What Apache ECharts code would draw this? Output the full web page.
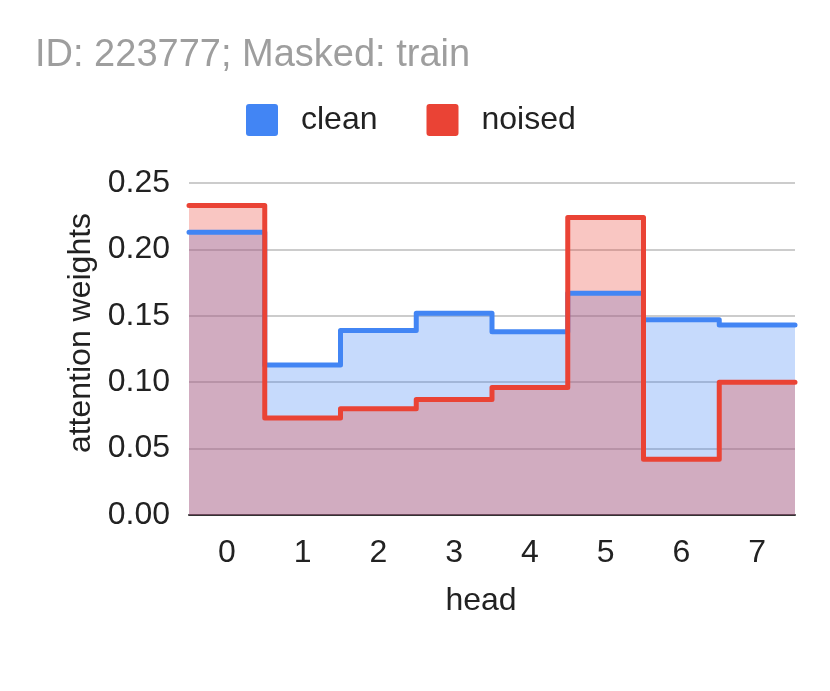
<!DOCTYPE html>
<html>
<head>
<meta charset="utf-8">
<script src="https://cdn.jsdelivr.net/npm/echarts@6/dist/echarts.min.js"></script>
<style>html,body{margin:0;padding:0;background:#fff}#c{width:830px;height:691px}</style>
</head>
<body>
<div id="c"></div>
<script>
const heads = ['0','1','2','3','4','5','6','7'];
const clean = [0.213, 0.113, 0.139, 0.152, 0.138, 0.167, 0.147, 0.143];
const noised = [0.233, 0.073, 0.080, 0.087, 0.096, 0.224, 0.042, 0.100];
const yTicks = [0, 0.05, 0.10, 0.15, 0.20, 0.25];
const titleText = 'ID: 223777; Masked: train';

const BLUE = '#4285F4', RED = '#EA4335';
const FONT = '"Liberation Sans", Arial, sans-serif';
const ICON = 'path://M3,0 H29 Q32,0 32,3 V29 Q32,32 29,32 H3 Q0,32 0,29 V3 Q0,0 3,0 Z';

function stepData(vals) {
  const d = vals.map((v, i) => [i - 0.5, v]);
  d.push([vals.length - 0.5, vals[vals.length - 1]]);
  return d;
}

function areaSeries(name, vals, color) {
  return {
    name, type: 'line', xAxisIndex: 1, step: 'end', data: stepData(vals),
    symbol: 'none', silent: true, z: 2,
    lineStyle: { width: 0, color }, itemStyle: { color },
    areaStyle: { color, opacity: 0.3 }
  };
}
function lineSeries(name, vals, color, z) {
  return {
    name, type: 'line', xAxisIndex: 1, step: 'end', data: stepData(vals),
    symbol: 'none', silent: true, z,
    lineStyle: { width: 5, color, join: 'round', cap: 'round' }, itemStyle: { color }
  };
}

const chart = echarts.init(document.getElementById('c'), null, { renderer: 'canvas' });
chart.setOption({
  animation: false,
  backgroundColor: '#fff',
  textStyle: { fontFamily: FONT },
  title: {
    text: titleText, left: 30, top: 32,
    textStyle: { fontSize: 38, fontWeight: 'normal', color: '#9e9e9e', fontFamily: FONT }
  },
  legend: {
    data: [{ name: 'clean', itemStyle: { color: BLUE } }, { name: 'noised', itemStyle: { color: RED } }],
    left: 241, top: 99, icon: ICON, itemWidth: 32, itemHeight: 32, itemGap: 49,
    textStyle: { fontSize: 32, color: '#222', fontFamily: FONT, padding: [0, 0, 0, 18] }
  },
  grid: { left: 189, right: 35, top: 183, bottom: 176, containLabel: false },
  xAxis: [
    {
      type: 'category', data: heads, boundaryGap: true,
      axisLine: { show: true, lineStyle: { color: '#333', width: 2 } },
      axisTick: { show: false },
      axisLabel: { fontSize: 32, color: '#222', margin: 22, fontFamily: FONT },
      splitLine: { show: false },
      name: 'head', nameLocation: 'middle', nameGap: 70,
      nameTextStyle: { fontSize: 32, color: '#222', fontFamily: FONT, padding: [0, 22, 0, 0] }
    },
    { type: 'value', min: -0.5, max: 7.5, show: false }
  ],
  yAxis: {
    type: 'value', min: 0, max: 0.25, interval: 0.05,
    axisLine: { show: false }, axisTick: { show: false },
    axisLabel: { fontSize: 32, color: '#222', margin: 19, fontFamily: FONT,
      formatter: v => v.toFixed(2) },
    splitLine: { lineStyle: { color: '#ccc', width: 2 } },
    name: 'attention weights', nameLocation: 'middle', nameGap: 82,
    nameTextStyle: { fontSize: 32, color: '#222', fontFamily: FONT, padding: [0, 0, 0, 32] }
  },
  series: [
    areaSeries('clean', clean, BLUE),
    areaSeries('noised', noised, RED),
    lineSeries('clean', clean, BLUE, 3),
    lineSeries('noised', noised, RED, 4)
  ]
});
</script>
</body>
</html>
